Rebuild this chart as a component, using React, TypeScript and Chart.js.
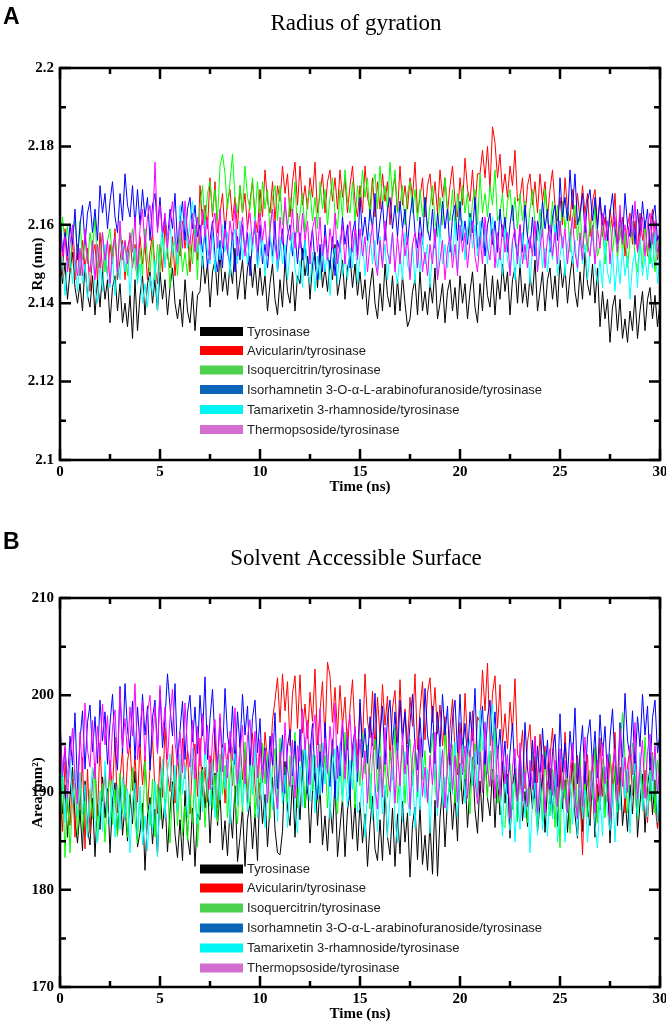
import React, { useEffect, useRef } from "react";
import { Chart, registerables } from "chart.js";

Chart.register(...registerables);

// ---------------- DATA ----------------
// one sample every 0.125 ns, 0 .. 30 ns
const TIME_NS = Array.from({ length: 241 }, (_, i) => i * 0.125);

const SERIES_NAMES = [
  "Tyrosinase",
  "Avicularin/tyrosinase",
  "Isoquercitrin/tyrosinase",
  "Isorhamnetin 3-O-\u03b1-L-arabinofuranoside/tyrosinase",
  "Tamarixetin 3-rhamnoside/tyrosinase",
  "Thermopsoside/tyrosinase",
];
const LINE_COLORS = ["#000000", "#ff0000", "#00ff00", "#0000ff", "#00ffff", "#ff00ff"];
const LEGEND_COLORS = ["#000000", "#ff0000", "#4cd24c", "#0a64b8", "#00f4f4", "#d46ed0"];

const X_TICKS = [0, 5, 10, 15, 20, 25, 30];
const X_MINOR = [2.5, 7.5, 12.5, 17.5, 22.5, 27.5];
const RG_TICKS = [2.1, 2.12, 2.14, 2.16, 2.18, 2.2];
const RG_MINOR = [2.11, 2.13, 2.15, 2.17, 2.19];
const SASA_TICKS = [170, 180, 190, 200, 210];
const SASA_MINOR = [175, 185, 195, 205];

// Radius of gyration (nm)
const RG_TYROSINASE = [
  2.152, 2.145, 2.150, 2.141, 2.148, 2.153, 2.144, 2.140,
  2.145, 2.138, 2.150, 2.142, 2.139, 2.147, 2.137, 2.146,
  2.139, 2.148, 2.141, 2.146, 2.135, 2.144, 2.147, 2.138,
  2.145, 2.135, 2.140, 2.134, 2.142, 2.131, 2.146, 2.133,
  2.142, 2.147, 2.137, 2.145, 2.148, 2.140, 2.146, 2.138,
  2.148, 2.141, 2.146, 2.137, 2.144, 2.149, 2.140, 2.136,
  2.141, 2.134, 2.146, 2.138, 2.135, 2.143, 2.133, 2.142,
  2.143, 2.152, 2.145, 2.150, 2.139, 2.148, 2.151, 2.142,
  2.153, 2.143, 2.148, 2.142, 2.150, 2.145, 2.154, 2.141,
  2.146, 2.151, 2.141, 2.149, 2.152, 2.144, 2.150, 2.142,
  2.149, 2.142, 2.147, 2.138, 2.145, 2.150, 2.141, 2.137,
  2.146, 2.139, 2.151, 2.143, 2.140, 2.148, 2.138, 2.147,
  2.145, 2.154, 2.147, 2.152, 2.141, 2.150, 2.153, 2.144,
  2.154, 2.144, 2.149, 2.143, 2.151, 2.146, 2.155, 2.142,
  2.146, 2.151, 2.141, 2.149, 2.152, 2.144, 2.150, 2.142,
  2.148, 2.141, 2.146, 2.137, 2.144, 2.149, 2.140, 2.136,
  2.145, 2.138, 2.150, 2.142, 2.139, 2.147, 2.137, 2.146,
  2.138, 2.147, 2.140, 2.134, 2.136, 2.143, 2.146, 2.137,
  2.148, 2.138, 2.143, 2.137, 2.145, 2.140, 2.149, 2.136,
  2.140, 2.145, 2.135, 2.143, 2.146, 2.138, 2.144, 2.136,
  2.147, 2.140, 2.145, 2.136, 2.143, 2.148, 2.139, 2.135,
  2.145, 2.138, 2.150, 2.142, 2.139, 2.147, 2.137, 2.146,
  2.141, 2.150, 2.143, 2.148, 2.137, 2.146, 2.149, 2.140,
  2.150, 2.140, 2.145, 2.139, 2.147, 2.142, 2.151, 2.138,
  2.143, 2.148, 2.138, 2.146, 2.149, 2.141, 2.147, 2.139,
  2.151, 2.144, 2.149, 2.140, 2.147, 2.152, 2.143, 2.139,
  2.148, 2.141, 2.153, 2.145, 2.142, 2.150, 2.140, 2.149,
  2.134, 2.143, 2.136, 2.141, 2.130, 2.139, 2.142, 2.133,
  2.141, 2.131, 2.136, 2.130, 2.138, 2.133, 2.142, 2.131,
  2.138, 2.143, 2.133, 2.141, 2.144, 2.136, 2.142, 2.134,
  2.140,
];
const RG_AVICULARIN = [
  2.154, 2.147, 2.159, 2.151, 2.148, 2.156, 2.146, 2.155,
  2.147, 2.156, 2.149, 2.154, 2.143, 2.152, 2.155, 2.146,
  2.158, 2.148, 2.153, 2.147, 2.155, 2.150, 2.159, 2.146,
  2.151, 2.156, 2.146, 2.154, 2.157, 2.149, 2.155, 2.147,
  2.157, 2.150, 2.155, 2.146, 2.153, 2.158, 2.149, 2.145,
  2.155, 2.148, 2.160, 2.152, 2.149, 2.157, 2.147, 2.156,
  2.152, 2.161, 2.154, 2.159, 2.148, 2.157, 2.160, 2.151,
  2.170, 2.160, 2.165, 2.159, 2.172, 2.162, 2.171, 2.158,
  2.163, 2.168, 2.158, 2.166, 2.169, 2.161, 2.167, 2.159,
  2.170, 2.163, 2.168, 2.159, 2.166, 2.171, 2.162, 2.158,
  2.169, 2.162, 2.174, 2.166, 2.163, 2.171, 2.161, 2.170,
  2.166, 2.175, 2.168, 2.173, 2.162, 2.171, 2.176, 2.165,
  2.175, 2.165, 2.170, 2.164, 2.172, 2.167, 2.176, 2.163,
  2.168, 2.173, 2.163, 2.171, 2.174, 2.166, 2.172, 2.164,
  2.174, 2.167, 2.172, 2.163, 2.170, 2.175, 2.166, 2.162,
  2.170, 2.163, 2.175, 2.167, 2.164, 2.172, 2.162, 2.171,
  2.164, 2.173, 2.166, 2.171, 2.160, 2.169, 2.172, 2.163,
  2.175, 2.165, 2.170, 2.164, 2.172, 2.167, 2.176, 2.163,
  2.167, 2.172, 2.162, 2.170, 2.173, 2.165, 2.171, 2.163,
  2.174, 2.167, 2.172, 2.163, 2.170, 2.175, 2.166, 2.162,
  2.172, 2.165, 2.177, 2.169, 2.166, 2.174, 2.164, 2.173,
  2.173, 2.179, 2.172, 2.180, 2.169, 2.185, 2.181, 2.172,
  2.178, 2.168, 2.173, 2.167, 2.175, 2.170, 2.179, 2.166,
  2.167, 2.172, 2.162, 2.170, 2.173, 2.165, 2.171, 2.163,
  2.173, 2.166, 2.171, 2.162, 2.169, 2.174, 2.165, 2.161,
  2.167, 2.160, 2.172, 2.164, 2.161, 2.169, 2.159, 2.168,
  2.161, 2.170, 2.163, 2.168, 2.157, 2.166, 2.169, 2.160,
  2.167, 2.157, 2.162, 2.156, 2.164, 2.159, 2.168, 2.155,
  2.157, 2.162, 2.152, 2.160, 2.163, 2.155, 2.161, 2.153,
  2.163, 2.156, 2.161, 2.152, 2.159, 2.164, 2.155, 2.151,
  2.158,
];
const RG_ISOQUERCITRIN = [
  2.153, 2.162, 2.155, 2.160, 2.149, 2.158, 2.161, 2.152,
  2.161, 2.151, 2.156, 2.150, 2.158, 2.153, 2.162, 2.149,
  2.153, 2.158, 2.148, 2.156, 2.159, 2.151, 2.157, 2.149,
  2.158, 2.151, 2.156, 2.147, 2.154, 2.159, 2.150, 2.146,
  2.154, 2.147, 2.159, 2.151, 2.148, 2.156, 2.146, 2.155,
  2.148, 2.157, 2.150, 2.155, 2.144, 2.153, 2.156, 2.147,
  2.158, 2.148, 2.153, 2.147, 2.155, 2.150, 2.159, 2.146,
  2.165, 2.170, 2.160, 2.168, 2.171, 2.163, 2.169, 2.161,
  2.175, 2.178, 2.173, 2.164, 2.171, 2.178, 2.167, 2.163,
  2.170, 2.163, 2.175, 2.167, 2.164, 2.172, 2.162, 2.171,
  2.162, 2.171, 2.164, 2.169, 2.158, 2.167, 2.170, 2.161,
  2.170, 2.160, 2.165, 2.159, 2.167, 2.162, 2.171, 2.158,
  2.163, 2.168, 2.158, 2.166, 2.169, 2.161, 2.167, 2.159,
  2.171, 2.164, 2.169, 2.160, 2.167, 2.172, 2.163, 2.159,
  2.169, 2.162, 2.174, 2.166, 2.163, 2.171, 2.161, 2.170,
  2.165, 2.174, 2.167, 2.172, 2.161, 2.170, 2.173, 2.164,
  2.175, 2.165, 2.170, 2.164, 2.176, 2.167, 2.174, 2.163,
  2.165, 2.170, 2.160, 2.168, 2.171, 2.163, 2.169, 2.161,
  2.169, 2.162, 2.167, 2.158, 2.165, 2.170, 2.161, 2.157,
  2.167, 2.160, 2.172, 2.164, 2.161, 2.169, 2.159, 2.168,
  2.161, 2.170, 2.163, 2.168, 2.157, 2.166, 2.169, 2.160,
  2.173, 2.163, 2.168, 2.162, 2.170, 2.165, 2.174, 2.161,
  2.163, 2.168, 2.158, 2.166, 2.169, 2.161, 2.167, 2.159,
  2.168, 2.161, 2.166, 2.157, 2.164, 2.169, 2.160, 2.156,
  2.164, 2.157, 2.169, 2.161, 2.158, 2.166, 2.156, 2.165,
  2.157, 2.166, 2.159, 2.164, 2.153, 2.162, 2.165, 2.156,
  2.164, 2.154, 2.159, 2.153, 2.161, 2.156, 2.165, 2.152,
  2.155, 2.160, 2.150, 2.158, 2.161, 2.153, 2.159, 2.151,
  2.160, 2.153, 2.158, 2.149, 2.156, 2.161, 2.152, 2.148,
  2.156, 2.149, 2.161, 2.153, 2.150, 2.158, 2.148, 2.157,
  2.153,
];
const RG_ISORHAMNETIN = [
  2.163, 2.153, 2.158, 2.152, 2.160, 2.155, 2.164, 2.151,
  2.160, 2.165, 2.155, 2.163, 2.166, 2.158, 2.164, 2.156,
  2.170, 2.163, 2.168, 2.159, 2.166, 2.171, 2.162, 2.158,
  2.168, 2.161, 2.173, 2.165, 2.162, 2.170, 2.160, 2.169,
  2.160, 2.169, 2.162, 2.167, 2.156, 2.165, 2.168, 2.159,
  2.167, 2.157, 2.162, 2.156, 2.164, 2.159, 2.168, 2.155,
  2.161, 2.166, 2.156, 2.164, 2.167, 2.159, 2.165, 2.157,
  2.160, 2.153, 2.158, 2.149, 2.156, 2.161, 2.152, 2.148,
  2.156, 2.149, 2.161, 2.153, 2.150, 2.158, 2.148, 2.157,
  2.151, 2.160, 2.153, 2.158, 2.147, 2.156, 2.159, 2.150,
  2.160, 2.150, 2.155, 2.149, 2.157, 2.152, 2.161, 2.148,
  2.154, 2.159, 2.149, 2.157, 2.160, 2.152, 2.158, 2.150,
  2.158, 2.151, 2.156, 2.147, 2.154, 2.159, 2.150, 2.146,
  2.155, 2.148, 2.160, 2.152, 2.149, 2.157, 2.147, 2.156,
  2.153, 2.162, 2.155, 2.160, 2.149, 2.158, 2.161, 2.152,
  2.167, 2.157, 2.162, 2.156, 2.164, 2.159, 2.168, 2.155,
  2.161, 2.166, 2.156, 2.164, 2.167, 2.159, 2.165, 2.157,
  2.166, 2.159, 2.164, 2.155, 2.162, 2.167, 2.158, 2.154,
  2.162, 2.155, 2.167, 2.159, 2.156, 2.164, 2.154, 2.163,
  2.157, 2.166, 2.159, 2.164, 2.153, 2.162, 2.165, 2.156,
  2.166, 2.156, 2.161, 2.155, 2.163, 2.158, 2.167, 2.154,
  2.157, 2.162, 2.152, 2.160, 2.163, 2.155, 2.161, 2.153,
  2.164, 2.157, 2.162, 2.153, 2.160, 2.165, 2.156, 2.152,
  2.160, 2.153, 2.165, 2.157, 2.154, 2.162, 2.152, 2.161,
  2.157, 2.166, 2.159, 2.164, 2.153, 2.162, 2.165, 2.156,
  2.172, 2.162, 2.167, 2.161, 2.174, 2.164, 2.173, 2.160,
  2.163, 2.168, 2.158, 2.166, 2.169, 2.161, 2.167, 2.159,
  2.167, 2.160, 2.165, 2.156, 2.163, 2.168, 2.159, 2.155,
  2.163, 2.156, 2.168, 2.160, 2.157, 2.165, 2.155, 2.164,
  2.157, 2.166, 2.159, 2.164, 2.153, 2.162, 2.165, 2.156,
  2.158,
];
const RG_TAMARIXETIN = [
  2.147, 2.152, 2.142, 2.150, 2.153, 2.145, 2.151, 2.143,
  2.152, 2.145, 2.150, 2.141, 2.148, 2.153, 2.144, 2.140,
  2.150, 2.143, 2.155, 2.147, 2.144, 2.152, 2.142, 2.151,
  2.146, 2.155, 2.148, 2.153, 2.142, 2.151, 2.154, 2.145,
  2.150, 2.140, 2.145, 2.139, 2.147, 2.142, 2.151, 2.138,
  2.154, 2.159, 2.149, 2.157, 2.160, 2.152, 2.158, 2.150,
  2.165, 2.158, 2.163, 2.154, 2.161, 2.166, 2.157, 2.153,
  2.156, 2.149, 2.161, 2.153, 2.150, 2.158, 2.148, 2.157,
  2.151, 2.160, 2.153, 2.158, 2.147, 2.156, 2.159, 2.150,
  2.161, 2.151, 2.156, 2.150, 2.158, 2.153, 2.162, 2.149,
  2.152, 2.157, 2.147, 2.155, 2.158, 2.150, 2.156, 2.148,
  2.157, 2.150, 2.155, 2.146, 2.153, 2.158, 2.149, 2.145,
  2.151, 2.144, 2.156, 2.148, 2.145, 2.153, 2.143, 2.152,
  2.146, 2.155, 2.148, 2.153, 2.142, 2.151, 2.154, 2.145,
  2.157, 2.147, 2.152, 2.146, 2.154, 2.149, 2.158, 2.145,
  2.152, 2.157, 2.147, 2.155, 2.158, 2.150, 2.156, 2.148,
  2.157, 2.150, 2.155, 2.146, 2.153, 2.158, 2.149, 2.145,
  2.153, 2.146, 2.158, 2.150, 2.147, 2.155, 2.145, 2.154,
  2.148, 2.157, 2.150, 2.155, 2.144, 2.153, 2.156, 2.147,
  2.160, 2.150, 2.155, 2.149, 2.157, 2.152, 2.161, 2.148,
  2.156, 2.161, 2.151, 2.159, 2.162, 2.154, 2.160, 2.152,
  2.161, 2.154, 2.159, 2.150, 2.157, 2.162, 2.153, 2.149,
  2.154, 2.147, 2.159, 2.151, 2.148, 2.156, 2.146, 2.155,
  2.149, 2.158, 2.151, 2.156, 2.145, 2.154, 2.157, 2.148,
  2.159, 2.149, 2.154, 2.148, 2.156, 2.151, 2.160, 2.147,
  2.152, 2.157, 2.147, 2.155, 2.158, 2.150, 2.156, 2.148,
  2.157, 2.150, 2.155, 2.146, 2.153, 2.158, 2.149, 2.145,
  2.151, 2.144, 2.156, 2.148, 2.145, 2.153, 2.143, 2.152,
  2.145, 2.154, 2.147, 2.152, 2.141, 2.150, 2.153, 2.144,
  2.157, 2.147, 2.152, 2.146, 2.154, 2.149, 2.158, 2.145,
  2.152,
];
const RG_THERMOPSOSIDE = [
  2.159, 2.152, 2.157, 2.148, 2.155, 2.160, 2.151, 2.147,
  2.154, 2.147, 2.159, 2.151, 2.148, 2.156, 2.146, 2.155,
  2.149, 2.158, 2.151, 2.156, 2.145, 2.154, 2.157, 2.148,
  2.161, 2.151, 2.156, 2.150, 2.158, 2.153, 2.162, 2.149,
  2.159, 2.164, 2.154, 2.162, 2.165, 2.157, 2.176, 2.158,
  2.165, 2.158, 2.163, 2.154, 2.161, 2.166, 2.157, 2.153,
  2.161, 2.154, 2.166, 2.158, 2.155, 2.163, 2.153, 2.162,
  2.155, 2.164, 2.157, 2.162, 2.151, 2.160, 2.163, 2.154,
  2.164, 2.154, 2.159, 2.153, 2.161, 2.156, 2.165, 2.152,
  2.157, 2.162, 2.152, 2.160, 2.163, 2.155, 2.161, 2.153,
  2.163, 2.156, 2.161, 2.152, 2.159, 2.164, 2.155, 2.151,
  2.162, 2.155, 2.167, 2.159, 2.156, 2.164, 2.154, 2.163,
  2.154, 2.163, 2.156, 2.161, 2.150, 2.159, 2.162, 2.153,
  2.162, 2.152, 2.157, 2.151, 2.159, 2.154, 2.163, 2.150,
  2.155, 2.160, 2.150, 2.158, 2.161, 2.153, 2.159, 2.151,
  2.159, 2.152, 2.157, 2.148, 2.155, 2.160, 2.151, 2.147,
  2.156, 2.149, 2.161, 2.153, 2.150, 2.158, 2.148, 2.157,
  2.150, 2.159, 2.152, 2.157, 2.146, 2.155, 2.158, 2.149,
  2.158, 2.148, 2.153, 2.147, 2.155, 2.150, 2.159, 2.146,
  2.151, 2.156, 2.146, 2.154, 2.157, 2.149, 2.155, 2.147,
  2.160, 2.153, 2.158, 2.149, 2.156, 2.161, 2.152, 2.148,
  2.157, 2.150, 2.162, 2.154, 2.151, 2.159, 2.149, 2.158,
  2.151, 2.160, 2.153, 2.158, 2.147, 2.156, 2.159, 2.150,
  2.160, 2.150, 2.155, 2.149, 2.157, 2.152, 2.161, 2.148,
  2.154, 2.159, 2.149, 2.157, 2.160, 2.152, 2.158, 2.150,
  2.161, 2.154, 2.159, 2.150, 2.157, 2.162, 2.153, 2.149,
  2.158, 2.151, 2.163, 2.155, 2.152, 2.160, 2.150, 2.159,
  2.154, 2.163, 2.156, 2.161, 2.150, 2.159, 2.162, 2.153,
  2.165, 2.155, 2.160, 2.154, 2.162, 2.157, 2.166, 2.153,
  2.157, 2.162, 2.152, 2.160, 2.163, 2.155, 2.161, 2.153,
  2.156,
];

// Solvent accessible surface area (nm^2)
const SASA_TYROSINASE = [
  192.0, 187.8, 190.8, 185.4, 189.6, 192.6, 187.2, 184.8,
  188.2, 184.0, 191.2, 186.4, 184.6, 189.4, 183.4, 188.8,
  186.2, 191.6, 187.4, 190.4, 183.8, 189.2, 191.0, 185.6,
  191.6, 185.6, 188.6, 185.0, 189.8, 186.8, 192.2, 184.4,
  185.9, 188.9, 182.0, 187.7, 189.5, 184.7, 188.3, 183.5,
  190.5, 186.3, 189.3, 183.9, 188.1, 191.1, 185.7, 183.3,
  187.2, 183.0, 190.2, 185.4, 183.6, 188.4, 182.4, 187.8,
  187.2, 192.6, 188.4, 191.4, 184.8, 190.2, 192.0, 186.6,
  190.1, 184.1, 187.1, 183.5, 188.3, 185.3, 190.7, 182.9,
  185.4, 188.4, 182.4, 187.2, 189.0, 184.2, 187.8, 183.0,
  191.0, 186.8, 189.8, 184.4, 188.6, 191.6, 186.2, 183.8,
  183.6, 186.0, 193.2, 188.4, 186.6, 191.4, 185.4, 190.8,
  187.2, 192.6, 188.4, 191.4, 184.8, 190.2, 192.0, 186.6,
  190.6, 184.6, 187.6, 184.0, 188.8, 185.8, 191.2, 183.4,
  186.4, 189.4, 183.4, 188.2, 190.0, 185.2, 188.8, 184.0,
  189.0, 184.8, 187.8, 182.4, 186.6, 189.6, 184.2, 183.0,
  187.2, 183.0, 190.2, 185.4, 183.6, 188.4, 182.4, 187.8,
  183.7, 189.1, 184.9, 187.9, 181.3, 186.7, 188.5, 183.1,
  188.6, 182.6, 185.6, 182.0, 186.8, 181.6, 189.2, 181.4,
  187.4, 190.4, 184.4, 189.2, 191.0, 186.2, 189.8, 185.0,
  193.0, 188.8, 191.8, 186.4, 190.6, 193.6, 188.2, 185.8,
  191.2, 187.0, 194.2, 189.4, 187.6, 192.4, 186.4, 191.8,
  187.7, 193.1, 188.9, 191.9, 185.3, 190.7, 192.5, 187.1,
  193.1, 187.1, 190.1, 186.5, 191.3, 188.3, 193.7, 185.9,
  188.9, 191.9, 185.9, 190.7, 192.5, 187.7, 191.3, 186.5,
  192.5, 188.3, 191.3, 185.9, 190.1, 193.1, 187.7, 185.3,
  190.2, 186.0, 193.2, 188.4, 186.6, 191.4, 185.4, 190.8,
  188.2, 192.6, 188.4, 191.4, 184.8, 190.2, 192.0, 186.6,
  192.6, 186.6, 189.6, 186.0, 190.8, 187.8, 193.2, 185.4,
  188.9, 191.9, 185.9, 190.7, 192.5, 187.7, 191.3, 186.5,
  190.0,
];
const SASA_AVICULARIN = [
  190.2, 186.0, 193.2, 188.4, 186.6, 191.4, 185.4, 190.8,
  188.2, 193.6, 184.2, 192.4, 185.8, 191.2, 193.0, 187.6,
  195.1, 189.1, 192.1, 188.5, 193.3, 190.3, 195.7, 187.9,
  191.4, 194.4, 188.4, 193.2, 195.0, 190.2, 193.8, 189.0,
  195.0, 190.8, 193.8, 188.4, 192.6, 195.6, 190.2, 187.8,
  193.7, 189.5, 196.7, 191.9, 190.1, 194.9, 188.9, 194.3,
  190.2, 195.6, 191.4, 194.4, 187.8, 193.2, 195.0, 189.6,
  195.6, 189.6, 192.6, 189.0, 193.8, 190.8, 196.2, 188.4,
  191.9, 194.9, 188.9, 193.7, 195.5, 190.7, 194.3, 189.5,
  195.5, 191.3, 194.3, 188.9, 193.1, 196.1, 190.7, 188.3,
  195.2, 191.0, 196.2, 193.4, 192.6, 197.4, 199.5, 201.8,
  197.2, 202.2, 198.4, 201.4, 194.8, 200.2, 202.0, 196.6,
  202.1, 196.1, 199.1, 195.5, 200.3, 197.3, 202.7, 194.9,
  198.4, 201.4, 195.4, 203.4, 202.0, 197.2, 200.8, 196.0,
  201.0, 196.8, 199.8, 194.4, 198.6, 201.6, 196.2, 193.8,
  199.2, 195.0, 202.2, 197.4, 195.6, 200.4, 194.4, 199.8,
  195.7, 201.1, 196.9, 199.9, 193.3, 198.7, 200.5, 195.1,
  201.6, 195.6, 198.6, 195.0, 199.8, 196.8, 202.2, 194.4,
  198.4, 201.4, 195.4, 200.2, 201.8, 197.2, 200.8, 196.0,
  199.0, 194.8, 197.8, 192.4, 196.6, 199.6, 194.2, 191.8,
  197.2, 193.0, 200.2, 195.4, 193.6, 198.4, 192.4, 197.8,
  197.2, 202.6, 198.4, 203.3, 194.8, 200.2, 202.0, 196.6,
  201.1, 195.1, 198.1, 194.5, 199.3, 196.3, 201.7, 193.9,
  193.4, 196.4, 190.4, 195.2, 197.0, 192.2, 195.8, 191.0,
  196.0, 191.8, 194.8, 189.4, 193.6, 196.6, 191.2, 188.8,
  193.2, 189.0, 196.2, 191.4, 189.6, 194.4, 188.4, 193.8,
  189.7, 183.6, 190.9, 193.9, 187.3, 192.7, 194.5, 189.1,
  195.6, 189.6, 192.6, 189.0, 193.8, 190.8, 196.2, 188.4,
  190.9, 193.9, 187.9, 192.7, 194.5, 189.7, 193.3, 188.5,
  193.5, 189.3, 192.3, 186.9, 191.1, 194.1, 188.7, 186.3,
  190.0,
];
const SASA_ISOQUERCITRIN = [
  186.2, 191.6, 183.3, 190.4, 183.8, 189.2, 191.0, 185.6,
  192.1, 186.1, 189.1, 185.5, 190.3, 187.3, 192.7, 184.9,
  187.9, 190.9, 184.9, 189.7, 191.5, 186.7, 190.3, 185.5,
  192.0, 187.8, 190.8, 185.4, 189.6, 192.6, 187.2, 184.8,
  190.2, 186.0, 193.2, 188.4, 186.6, 191.4, 185.4, 190.8,
  187.2, 192.6, 188.4, 191.4, 184.8, 190.2, 192.0, 186.6,
  191.6, 185.6, 188.6, 185.0, 189.8, 186.8, 192.2, 184.4,
  189.4, 192.4, 186.4, 191.2, 193.0, 188.2, 191.8, 187.0,
  194.0, 189.8, 192.8, 187.4, 191.6, 194.6, 189.2, 186.8,
  192.2, 188.0, 195.2, 190.4, 188.6, 193.4, 187.4, 192.8,
  189.7, 195.1, 190.9, 193.9, 187.3, 192.7, 194.5, 189.1,
  195.6, 189.6, 192.6, 189.0, 193.8, 190.8, 196.2, 188.4,
  191.4, 194.4, 188.4, 193.2, 195.0, 190.2, 193.8, 189.0,
  195.0, 190.8, 193.8, 188.4, 192.6, 195.6, 190.2, 187.8,
  193.2, 189.0, 196.2, 191.4, 189.6, 194.4, 188.4, 193.8,
  190.7, 196.1, 191.9, 194.9, 188.3, 193.7, 195.5, 190.1,
  196.1, 190.1, 193.1, 189.5, 194.3, 191.3, 196.7, 188.9,
  191.9, 194.9, 188.9, 193.7, 195.5, 190.7, 194.3, 189.5,
  195.5, 191.3, 194.3, 188.9, 193.1, 196.1, 190.7, 188.3,
  193.7, 189.5, 196.7, 191.9, 190.1, 194.9, 188.9, 194.3,
  190.2, 195.6, 191.4, 194.4, 187.8, 193.2, 195.0, 189.6,
  196.1, 190.1, 193.1, 189.5, 194.3, 191.3, 196.7, 188.9,
  189.4, 186.7, 186.4, 191.2, 193.0, 188.2, 191.8, 187.0,
  193.5, 189.3, 192.3, 186.9, 191.1, 194.1, 188.7, 186.3,
  191.2, 187.0, 194.2, 189.4, 187.6, 192.4, 186.4, 191.8,
  184.3, 193.6, 189.4, 192.4, 185.8, 191.2, 193.0, 187.6,
  194.1, 188.1, 191.1, 187.5, 192.3, 189.3, 194.7, 186.9,
  190.4, 193.4, 187.4, 192.2, 194.0, 189.2, 192.8, 188.0,
  194.5, 198.2, 193.3, 187.9, 192.1, 195.1, 189.7, 187.3,
  192.7, 188.5, 195.7, 190.9, 189.1, 193.9, 187.9, 193.3,
  191.0,
];
const SASA_ISORHAMNETIN = [
  197.6, 191.6, 194.6, 191.0, 195.8, 192.8, 198.2, 190.4,
  195.4, 198.4, 192.4, 197.2, 199.0, 194.2, 197.8, 193.0,
  199.5, 195.3, 198.3, 192.9, 197.1, 200.1, 194.7, 192.3,
  200.9, 194.0, 201.2, 196.4, 194.6, 199.4, 193.4, 198.8,
  194.7, 200.1, 195.9, 198.9, 192.3, 197.7, 199.5, 194.1,
  200.6, 194.6, 197.6, 202.2, 198.8, 195.8, 201.2, 193.4,
  196.4, 199.4, 193.4, 198.2, 200.0, 195.2, 198.8, 194.0,
  200.0, 195.8, 201.9, 193.4, 197.6, 200.6, 195.2, 192.8,
  197.7, 193.5, 200.7, 195.9, 194.1, 198.9, 192.9, 198.3,
  194.7, 200.1, 195.9, 198.9, 192.3, 197.7, 199.5, 194.1,
  197.6, 191.6, 194.6, 191.0, 195.8, 192.8, 198.2, 190.4,
  192.9, 195.9, 189.9, 194.7, 196.5, 191.7, 195.3, 190.5,
  196.5, 192.3, 195.3, 189.9, 194.1, 197.1, 191.7, 189.3,
  194.2, 190.0, 197.2, 192.4, 190.6, 195.4, 189.4, 194.8,
  191.7, 197.1, 192.9, 195.9, 189.3, 194.7, 196.5, 191.1,
  199.6, 193.6, 196.6, 193.0, 197.8, 194.8, 200.2, 192.4,
  195.9, 198.9, 192.9, 197.7, 199.5, 194.7, 198.3, 193.5,
  199.5, 195.3, 198.3, 192.9, 197.1, 200.1, 194.7, 192.3,
  197.7, 193.5, 200.7, 195.9, 194.1, 198.9, 192.9, 198.3,
  194.7, 200.1, 195.9, 198.9, 192.3, 197.7, 199.5, 194.1,
  200.1, 194.1, 197.1, 193.5, 198.3, 195.3, 200.7, 192.9,
  195.9, 198.9, 192.9, 197.7, 199.5, 194.7, 198.3, 193.5,
  196.5, 192.3, 195.3, 189.9, 194.1, 197.1, 191.7, 189.3,
  194.2, 190.0, 197.2, 192.4, 190.6, 195.4, 189.4, 194.8,
  191.2, 196.6, 192.4, 195.4, 188.8, 194.2, 196.0, 190.6,
  198.1, 192.1, 195.1, 191.5, 196.3, 193.3, 198.7, 190.9,
  193.9, 196.9, 190.9, 195.7, 197.5, 192.7, 196.3, 191.5,
  198.0, 193.8, 196.8, 191.4, 195.6, 198.6, 193.2, 190.8,
  197.2, 193.0, 200.2, 195.4, 193.6, 198.4, 192.4, 197.8,
  194.7, 200.1, 195.9, 198.9, 192.3, 197.7, 199.5, 194.1,
  196.0,
];
const SASA_TAMARIXETIN = [
  189.9, 192.9, 186.9, 191.7, 193.5, 188.7, 192.3, 187.5,
  192.0, 187.8, 190.8, 185.4, 189.6, 192.6, 187.2, 184.8,
  190.2, 186.0, 193.2, 188.4, 186.6, 191.4, 185.4, 190.8,
  186.2, 191.6, 187.4, 190.4, 183.8, 189.2, 191.0, 185.6,
  190.6, 184.6, 187.6, 184.0, 188.8, 185.8, 191.2, 183.4,
  190.4, 193.4, 187.4, 192.2, 194.0, 189.2, 192.8, 188.0,
  194.0, 189.8, 192.8, 187.4, 191.6, 194.6, 189.2, 186.8,
  192.2, 188.0, 195.2, 190.4, 188.6, 193.4, 187.4, 192.8,
  189.2, 194.6, 190.4, 193.4, 186.8, 192.2, 194.0, 188.6,
  194.6, 188.6, 191.6, 188.0, 192.8, 189.8, 195.2, 187.4,
  189.4, 192.4, 186.4, 191.2, 193.0, 188.2, 191.8, 187.0,
  193.0, 188.8, 191.8, 186.4, 190.6, 193.6, 188.2, 185.8,
  192.7, 188.5, 195.7, 190.9, 189.1, 193.9, 187.9, 193.3,
  189.7, 195.1, 190.9, 193.9, 187.3, 192.7, 194.5, 189.1,
  195.1, 189.1, 192.1, 188.5, 193.3, 190.3, 195.7, 187.9,
  188.4, 191.4, 185.4, 190.2, 192.0, 187.2, 190.8, 186.0,
  192.0, 187.8, 190.8, 185.4, 189.6, 192.6, 187.2, 184.8,
  191.2, 187.0, 194.2, 189.4, 187.6, 192.4, 186.4, 191.8,
  188.2, 193.6, 189.4, 192.4, 185.8, 191.2, 193.0, 187.6,
  194.6, 188.6, 191.6, 188.0, 192.8, 189.8, 195.2, 187.4,
  191.9, 194.9, 188.9, 193.7, 195.5, 190.7, 194.3, 189.5,
  198.5, 194.3, 197.3, 191.9, 196.1, 199.1, 193.7, 191.3,
  189.7, 185.5, 192.7, 187.9, 186.1, 190.9, 184.9, 190.3,
  186.2, 191.6, 187.4, 190.4, 183.8, 189.2, 191.0, 185.6,
  192.1, 186.1, 189.1, 185.5, 190.3, 187.3, 192.7, 184.9,
  187.9, 190.9, 184.9, 189.7, 191.5, 186.7, 190.3, 185.5,
  191.5, 187.3, 190.3, 184.9, 189.1, 192.1, 186.7, 184.3,
  189.7, 185.5, 192.7, 187.9, 186.1, 190.9, 184.9, 190.3,
  188.2, 193.6, 189.4, 192.4, 185.8, 191.2, 193.0, 187.6,
  194.1, 188.1, 191.1, 187.5, 192.3, 189.3, 194.7, 186.9,
  190.5,
];
const SASA_THERMOPSOSIDE = [
  196.0, 191.8, 194.8, 189.4, 193.6, 196.6, 191.2, 188.8,
  196.2, 192.0, 199.2, 194.4, 192.6, 197.4, 191.4, 196.8,
  193.7, 199.1, 194.9, 197.9, 191.3, 196.7, 198.5, 193.1,
  200.6, 194.6, 197.6, 194.0, 198.8, 195.8, 201.2, 193.4,
  196.4, 199.4, 193.4, 198.2, 200.0, 195.2, 198.8, 194.0,
  201.0, 195.8, 198.8, 193.4, 197.6, 200.6, 195.2, 192.8,
  196.2, 192.0, 199.2, 194.4, 192.6, 197.4, 191.4, 196.8,
  192.7, 198.1, 193.9, 196.9, 190.3, 195.7, 197.5, 192.1,
  198.1, 192.1, 195.1, 191.5, 196.3, 193.3, 198.7, 190.9,
  193.9, 196.9, 190.9, 195.7, 197.5, 192.7, 196.3, 191.5,
  195.5, 191.3, 194.3, 188.9, 193.1, 196.1, 190.7, 188.3,
  194.2, 190.0, 197.2, 192.4, 190.6, 195.4, 189.4, 194.8,
  193.2, 198.6, 194.4, 197.4, 190.8, 196.2, 198.0, 192.6,
  198.6, 192.6, 195.6, 192.0, 196.8, 193.8, 199.2, 191.4,
  194.4, 197.4, 191.4, 196.2, 198.0, 193.2, 196.8, 192.0,
  195.5, 191.3, 194.3, 188.9, 193.1, 196.1, 190.7, 188.3,
  193.7, 189.5, 196.7, 191.9, 190.1, 194.9, 188.9, 194.3,
  190.7, 196.1, 191.9, 194.9, 188.3, 193.7, 195.5, 190.1,
  195.6, 189.6, 192.6, 189.0, 193.8, 190.8, 196.2, 188.4,
  191.4, 194.4, 188.4, 193.2, 195.0, 190.2, 193.8, 189.0,
  196.0, 191.8, 194.8, 189.4, 193.6, 196.6, 191.2, 188.8,
  194.2, 190.0, 197.2, 192.4, 190.6, 195.4, 189.4, 194.8,
  189.7, 195.1, 190.9, 193.9, 187.3, 192.7, 194.5, 189.1,
  195.1, 189.1, 192.1, 188.5, 193.3, 190.3, 195.7, 187.9,
  190.9, 193.9, 187.9, 192.7, 194.5, 189.7, 193.3, 188.5,
  194.5, 190.3, 193.3, 187.9, 192.1, 195.1, 189.7, 187.3,
  192.7, 188.5, 195.7, 190.9, 189.1, 193.9, 187.9, 193.3,
  189.7, 195.1, 190.9, 193.9, 187.3, 192.7, 194.5, 189.1,
  196.6, 190.6, 193.6, 190.0, 194.8, 191.8, 197.2, 189.4,
  192.4, 195.4, 189.4, 194.2, 196.0, 191.2, 194.8, 190.0,
  193.0,
];

const RG_SERIES = [RG_TYROSINASE, RG_AVICULARIN, RG_ISOQUERCITRIN, RG_ISORHAMNETIN, RG_TAMARIXETIN, RG_THERMOPSOSIDE];
const SASA_SERIES = [SASA_TYROSINASE, SASA_AVICULARIN, SASA_ISOQUERCITRIN, SASA_ISORHAMNETIN, SASA_TAMARIXETIN, SASA_THERMOPSOSIDE];

// ---------------- RENDERING ----------------
const SERIF = "'Liberation Serif', 'Times New Roman', serif";
const SANS = "'Liberation Sans', Arial, sans-serif";

const framePlugin = {
  id: "frame",
  afterDatasetsDraw(chart: any, _args: any, o: any) {
    const ctx = chart.ctx;
    const { left, right, top, bottom } = chart.chartArea;
    const xs = chart.scales.x;
    const ys = chart.scales.y;
    ctx.save();
    // legend
    ctx.font = `13px ${SANS}`;
    ctx.textBaseline = "middle";
    ctx.textAlign = "left";
    SERIES_NAMES.forEach((name, i) => {
      const cy = o.legendY[i];
      ctx.fillStyle = LEGEND_COLORS[i];
      ctx.fillRect(200, cy - 4.5, 43, 9);
      ctx.fillStyle = "#222";
      ctx.fillText(name, 247, cy + 0.5);
    });
    // frame
    ctx.strokeStyle = "#000";
    ctx.lineWidth = 2.5;
    ctx.strokeRect(left, top, right - left, bottom - top);
    ctx.beginPath();
    const xt = (vals: number[], len: number) => {
      vals.forEach((v) => {
        const p = xs.getPixelForValue(v);
        ctx.moveTo(p, bottom);
        ctx.lineTo(p, bottom - len);
        ctx.moveTo(p, top);
        ctx.lineTo(p, top + len);
      });
    };
    const yt = (vals: number[], len: number) => {
      vals.forEach((v) => {
        const p = ys.getPixelForValue(v);
        ctx.moveTo(left, p);
        ctx.lineTo(left + len, p);
        ctx.moveTo(right, p);
        ctx.lineTo(right - len, p);
      });
    };
    xt(X_TICKS, 11);
    xt(X_MINOR, 6);
    yt(o.yTicks, 11);
    yt(o.yMinor, 6);
    ctx.stroke();
    // panel letter and title
    ctx.fillStyle = "#000";
    ctx.textBaseline = "alphabetic";
    ctx.font = `bold 23px ${SANS}`;
    ctx.fillText(o.letter, 3, o.letterY);
    ctx.font = `23px ${SERIF}`;
    ctx.textAlign = "center";
    ctx.fillText(o.title, (left + right) / 2 - 4, o.titleY);
    ctx.restore();
  },
};

type PanelProps = {
  series: number[][];
  yTicks: number[];
  yMinor: number[];
  yTitle: string;
  title: string;
  letter: string;
  top: number;
  xAxisH: number;
  padBottom: number;
  letterY: number;
  titleY: number;
  legendY: number[];
  xTitlePad: number;
  yTitlePad: number;
};

function Panel(p: PanelProps) {
  const ref = useRef<HTMLCanvasElement | null>(null);
  useEffect(() => {
    if (!ref.current) return;
    const yMin = p.yTicks[0];
    const yMax = p.yTicks[p.yTicks.length - 1];
    const datasets = p.series.map((vals, i) => ({
      label: SERIES_NAMES[i],
      data: vals.map((v, j) => ({ x: TIME_NS[j], y: v })),
      borderColor: LINE_COLORS[i],
      backgroundColor: LINE_COLORS[i],
      borderWidth: 1,
      pointRadius: 0,
      tension: 0,
      order: 6 - i,
    }));
    const tickFont = { family: SERIF, size: 15, weight: "bold" as const };
    const chart = new Chart(ref.current, {
      type: "line",
      data: { datasets },
      plugins: [framePlugin],
      options: {
        animation: false,
        responsive: false,
        devicePixelRatio: 1,
        layout: { padding: { top: p.top, right: 6, left: 0, bottom: p.padBottom } },
        plugins: {
          legend: { display: false },
          tooltip: { enabled: false },
          frame: {
            yTicks: p.yTicks,
            yMinor: p.yMinor,
            letter: p.letter,
            title: p.title,
            letterY: p.letterY,
            titleY: p.titleY,
            legendY: p.legendY,
          },
        } as any,
        scales: {
          x: {
            type: "linear",
            min: 0,
            max: 30,
            grid: { display: false, drawTicks: false },
            border: { display: false },
            afterBuildTicks: (s: any) => {
              s.ticks = X_TICKS.map((v) => ({ value: v }));
            },
            afterFit: (s: any) => {
              s.height = p.xAxisH;
              s.paddingLeft = 0;
              s.paddingRight = 0;
            },
            ticks: { color: "#000", font: tickFont, padding: 3, maxRotation: 0, autoSkip: false, callback: (v: any) => String(v) },
            title: { display: true, text: "Time (ns)", color: "#000", font: { family: SERIF, size: 15, weight: "bold" }, padding: { top: 0, bottom: p.xTitlePad } },
          },
          y: {
            type: "linear",
            min: yMin,
            max: yMax,
            grid: { display: false, drawTicks: false },
            border: { display: false },
            afterBuildTicks: (s: any) => {
              s.ticks = p.yTicks.map((v) => ({ value: v }));
            },
            afterFit: (s: any) => {
              s.width = 60;
            },
            ticks: { color: "#000", font: tickFont, padding: 6, autoSkip: false, callback: (v: any) => String(v) },
            title: { display: true, text: p.yTitle, color: "#000", font: { family: SERIF, size: 15, weight: "bold" }, padding: { top: p.yTitlePad, bottom: 0 } },
          },
        },
      } as any,
    });
    return () => chart.destroy();
  }, []);
  return <canvas ref={ref} width={666} height={513} style={{ display: "block", width: 666, height: 513 }} />;
}

export default function App() {
  return (
    <div style={{ position: "absolute", left: 0, top: 0, width: 666, height: 1026, background: "#fff" }}>
      <Panel
        series={RG_SERIES}
        yTicks={RG_TICKS}
        yMinor={RG_MINOR}
        yTitle="Rg (nm)"
        title="Radius of gyration"
        letter="A"
        top={68}
        xAxisH={40}
        padBottom={13}
        letterY={24}
        titleY={30}
        legendY={[331.5, 350.5, 370, 389.5, 409.5, 429.5]}
        xTitlePad={4}
        yTitlePad={29}
      />
      <Panel
        series={SASA_SERIES}
        yTicks={SASA_TICKS}
        yMinor={SASA_MINOR}
        yTitle={"Area (nm\u00b2)"}
        title="Solvent Accessible Surface"
        letter="B"
        top={85}
        xAxisH={36}
        padBottom={3}
        letterY={36}
        titleY={52}
        legendY={[356, 375, 395, 415, 435, 455]}
        xTitlePad={0}
        yTitlePad={29}
      />
    </div>
  );
}
